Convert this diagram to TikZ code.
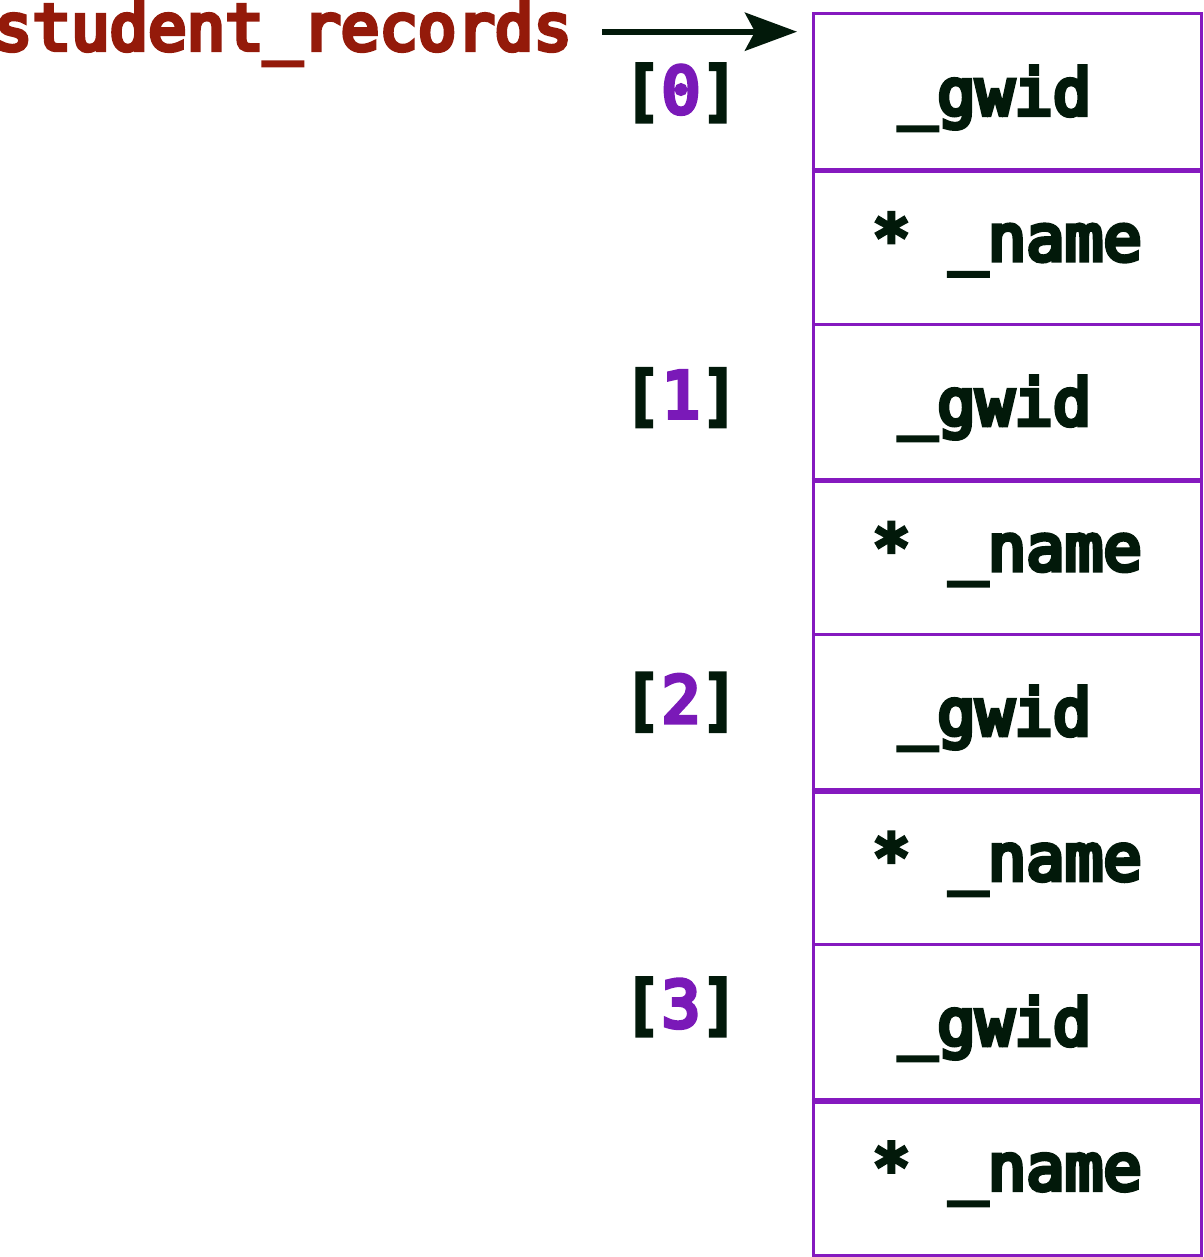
\documentclass[tikz,border=0pt]{standalone}
\usepackage{fontspec}
\newfontfamily\codefont{DejaVu Sans Mono}[FakeBold=7]
\usetikzlibrary{arrows.meta}
\definecolor{boxpurple}{HTML}{8519BF}
\definecolor{idxpurple}{HTML}{7A19B8}
\definecolor{darktxt}{HTML}{02190A}
\definecolor{darkred}{HTML}{941A0A}
\tikzset{
  cell/.style={draw=boxpurple, line width=3pt, rectangle, minimum width=388pt, minimum height=155.125pt, inner sep=0pt},
  code/.style={font=\codefont\fontsize{64}{64}\selectfont, inner sep=0pt, anchor=base, text=darktxt},
  ptr/.style={draw=darktxt, line width=6pt, -{Stealth[length=52pt, width=38pt, inset=10pt]}}
}
\begin{document}
\begin{tikzpicture}[x=1pt, y=-1pt]
\useasboundingbox (0,0) rectangle (1203,1257);
% cells
\foreach \i in {0,...,7} {
  \node[cell] (c\i) at (1007, {14+155.125*\i+77.5625}) {};
}
\foreach \i in {0,2,4,6} {
  \draw[boxpurple, line width=5pt] (c\i.south west) -- (c\i.south east);
}
% texts in cells
\foreach \k in {0,...,3} {
  \node[code] (g\k) at (995, {115+310*\k}) {\_gwid};
  \node[code] (n\k) at (1007, {260.5+309.8*\k}) {* \_name};
  \node[code] (i\k) at (681, {113+304.67*\k}) {[\textcolor{idxpurple}{\k}]};
}
% pointer label
\node[code, text=darkred] (lbl) at (283, 50) {student\_records};
\coordinate (as) at (602, 31.7);
\coordinate (ae) at (797, 31.7);
\draw[ptr] (as) -- (ae);
\end{tikzpicture}
\end{document}
